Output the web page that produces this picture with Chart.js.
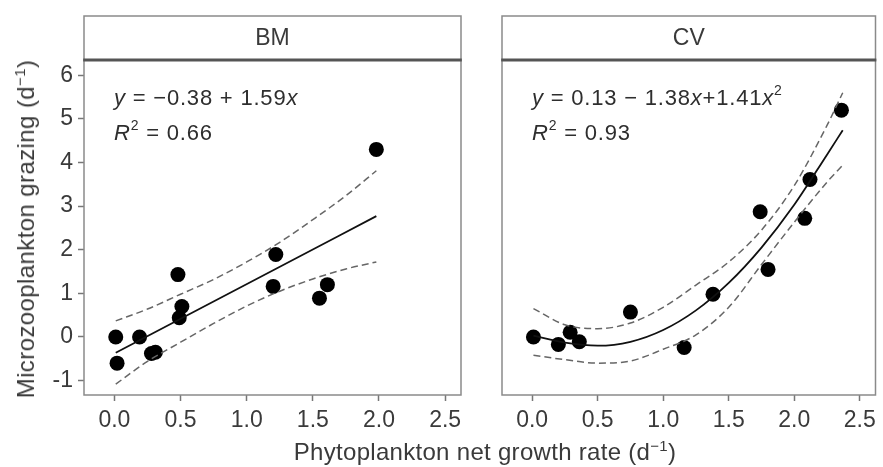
<!DOCTYPE html>
<html>
<head>
<meta charset="utf-8">
<script src="https://cdn.jsdelivr.net/npm/chart.js@4.4.1/dist/chart.umd.min.js"></script>
<style>
  html, body { margin: 0; padding: 0; background: #fff; }
  #wrap { position: relative; width: 883px; height: 467px; overflow: hidden; font-family: "Liberation Sans", Arial, sans-serif; color: #3a3a3a; }
  canvas { position: absolute; top: 0; }
  #bm { left: 0; }
  #cv { left: 470px; }
  .ytitle { position: absolute; left: 26px; top: 229px; transform: translate(-50%, -50%) rotate(-90deg); white-space: nowrap; font-size: 24px; letter-spacing: 0.4px; }
  .xtitle { position: absolute; left: 485px; top: 452px; transform: translate(-50%, -50%); white-space: nowrap; font-size: 24px; letter-spacing: 0.3px; }
  sup { font-size: 15px; vertical-align: 9px; line-height: 0; }
</style>
</head>
<body>
<div id="wrap">
  <canvas id="bm" width="470" height="467"></canvas>
  <canvas id="cv" width="413" height="467"></canvas>
  <div class="ytitle">Microzooplankton grazing (d<sup>−1</sup>)</div>
  <div class="xtitle">Phytoplankton net growth rate (d<sup>−1</sup>)</div>
</div>
<script>
// axis ticks
const xTicks = [0, 0.5, 1, 1.5, 2, 2.5]
const yTicks = [-1, 0, 1, 2, 3, 4, 5, 6]

// BM observations
const bmX = [0.01, 0.02, 0.19, 0.28, 0.31, 0.48, 0.51, 0.49, 1.22, 1.20, 1.55, 1.61, 1.98]
const bmY = [0.0, -0.6, 0.0, -0.38, -0.35, 1.43, 0.70, 0.44, 1.89, 1.16, 0.89, 1.20, 4.30]

// BM fitted line and confidence band
const bmFitX = [0.01, 1.98]
const bmFitY = [-0.36, 2.77]
const bmBandX = [0.01, 0.25, 0.5, 0.75, 1.0, 1.25, 1.5, 1.75, 1.98]
const bmUpper = [0.37, 0.64, 0.98, 1.32, 1.72, 2.17, 2.69, 3.24, 3.81]
const bmLower = [-1.08, -0.56, -0.12, 0.31, 0.71, 1.05, 1.33, 1.56, 1.72]

// CV observations
const cvX = [0.01, 0.20, 0.29, 0.36, 0.75, 1.16, 1.38, 1.80, 1.74, 2.08, 2.12, 2.36]
const cvY = [0.0, -0.17, 0.11, -0.11, 0.57, -0.24, 0.98, 1.55, 2.87, 2.72, 3.61, 5.20]

// CV fitted quadratic and confidence band
const cvCurveX = [0.01, 0.25, 0.5, 0.75, 1.0, 1.25, 1.5, 1.75, 2.0, 2.25, 2.37]
const cvFitY = [0.03, -0.13, -0.2, -0.11, 0.16, 0.61, 1.24, 2.05, 3.03, 4.18, 4.74]
const cvUpper = [0.65, 0.28, 0.19, 0.32, 0.68, 1.19, 1.72, 2.45, 3.47, 4.85, 5.6]
const cvLower = [-0.42, -0.52, -0.6, -0.55, -0.28, 0.05, 0.68, 1.66, 2.63, 3.55, 3.94]

const FONT = '"Liberation Sans", Arial, sans-serif'
const TEXT = '#3a3a3a'

const pairs = (xs, ys) => xs.map((x, i) => ({ x: x, y: ys[i] }))

function drawRuns(ctx, x, y, runs) {
  ctx.save()
  ctx.fillStyle = '#2e2e2e'
  ctx.textBaseline = 'alphabetic'
  ctx.textAlign = 'left'
  if ('letterSpacing' in ctx) ctx.letterSpacing = '0.8px'
  runs.forEach((r) => {
    const size = r.sup ? 14 : 22
    ctx.font = (r.it ? 'italic ' : '') + size + 'px ' + FONT
    ctx.fillText(r.t, x, r.sup ? y - 10 : y)
    x += ctx.measureText(r.t).width
  })
  ctx.restore()
}

// panel box, strip header and fit equation
const panelDecor = {
  id: 'panelDecor',
  afterDraw(chart, args, opts) {
    const { ctx, chartArea } = chart
    const { left, right, top, bottom } = chartArea
    ctx.save()
    ctx.strokeStyle = '#8a8a8a'
    ctx.lineWidth = 1.5
    ctx.strokeRect(left, top, right - left, bottom - top)
    // strip
    ctx.strokeRect(left, 16, right - left, top - 16)
    ctx.strokeStyle = '#555'
    ctx.lineWidth = 3
    ctx.beginPath()
    ctx.moveTo(left - 0.75, top)
    ctx.lineTo(right + 0.75, top)
    ctx.stroke()
    ctx.fillStyle = TEXT
    ctx.font = '23px ' + FONT
    ctx.textAlign = 'center'
    ctx.textBaseline = 'middle'
    ctx.fillText(opts.label, (left + right) / 2, 39)
    ctx.restore()
    drawRuns(ctx, left + 30, top + 45, opts.line1)
    drawRuns(ctx, left + 30, top + 80, opts.line2)
  }
}

function scales(showY) {
  return {
    x: {
      type: 'linear',
      min: -0.23,
      max: 2.62,
      afterBuildTicks: (s) => { s.ticks = xTicks.map((v) => ({ value: v })) },
      afterFit: (s) => { s.height = 72 },
      border: { display: false },
      grid: { drawOnChartArea: false, drawTicks: true, tickLength: 6, tickColor: '#777', tickWidth: 1.5 },
      ticks: {
        autoSkip: false,
        maxRotation: 0,
        padding: 6,
        color: TEXT,
        font: { size: 23, family: FONT },
        callback: (v) => Number(v).toFixed(1)
      }
    },
    y: {
      type: 'linear',
      display: showY,
      min: -1.33,
      max: 6.35,
      afterBuildTicks: (s) => { s.ticks = yTicks.map((v) => ({ value: v })) },
      afterFit: (s) => { s.width = showY ? 84 : 0 },
      border: { display: false },
      grid: { drawOnChartArea: false, drawTicks: true, tickLength: 6, tickColor: '#777', tickWidth: 1.5 },
      ticks: {
        padding: 5,
        color: TEXT,
        font: { size: 23, family: FONT },
        callback: (v) => String(v)
      }
    }
  }
}

function makePanel(canvas, pts, fit, upper, lower, padding, showY, decor) {
  const band = (data) => ({
    type: 'line',
    data: data,
    showLine: true,
    borderColor: '#666',
    borderWidth: 1.5,
    borderDash: [7, 4],
    pointRadius: 0,
    cubicInterpolationMode: 'monotone',
    fill: false
  })
  return new Chart(canvas.getContext('2d'), {
    type: 'scatter',
    data: {
      datasets: [
        band(upper),
        band(lower),
        {
          type: 'line',
          data: fit,
          showLine: true,
          borderColor: '#111',
          borderWidth: 1.8,
          pointRadius: 0,
          cubicInterpolationMode: 'monotone',
          fill: false
        },
        {
          data: pts,
          backgroundColor: '#000',
          borderColor: '#000',
          pointRadius: 7.5,
          pointBorderWidth: 0
        }
      ]
    },
    options: {
      responsive: false,
      animation: false,
      devicePixelRatio: 1,
      layout: { padding: padding },
      plugins: { legend: { display: false }, tooltip: { enabled: false }, panelDecor: decor },
      scales: scales(showY)
    },
    plugins: [panelDecor]
  })
}

const sup = true, it = true

makePanel(
  document.getElementById('bm'),
  pairs(bmX, bmY),
  pairs(bmFitX, bmFitY),
  pairs(bmBandX, bmUpper),
  pairs(bmBandX, bmLower),
  { top: 60, right: 9, bottom: 0, left: 0 },
  true,
  {
    label: 'BM',
    line1: [{ t: 'y', it }, { t: ' = −0.38 + 1.59' }, { t: 'x', it }],
    line2: [{ t: 'R', it }, { t: '2', sup }, { t: ' = 0.66' }]
  }
)

makePanel(
  document.getElementById('cv'),
  pairs(cvX, cvY),
  pairs(cvCurveX, cvFitY),
  pairs(cvCurveX, cvUpper),
  pairs(cvCurveX, cvLower),
  { top: 60, right: 4, bottom: 0, left: 32 },
  false,
  {
    label: 'CV',
    line1: [{ t: 'y', it }, { t: ' = 0.13 − 1.38' }, { t: 'x', it }, { t: '+1.41' }, { t: 'x', it }, { t: '2', sup }],
    line2: [{ t: 'R', it }, { t: '2', sup }, { t: ' = 0.93' }]
  }
)
</script>
</body>
</html>
